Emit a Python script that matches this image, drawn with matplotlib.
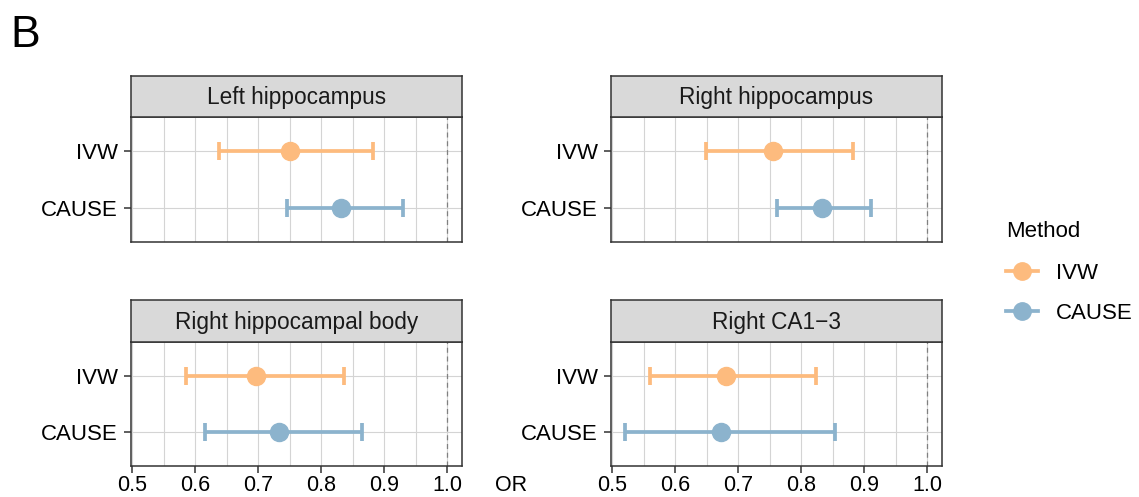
import matplotlib
matplotlib.use('Agg')
import matplotlib.pyplot as plt
from matplotlib.lines import Line2D
import numpy as np

plt.rcParams['font.family'] = ['Liberation Sans', 'DejaVu Sans']

# data (odds ratios with 95% CI)
panels = ['Left hippocampus', 'Right hippocampus',
          'Right hippocampal body', 'Right CA1\u22123']
methods = ['IVW', 'CAUSE']
ivw_or = [0.750, 0.755, 0.697, 0.680]
ivw_lo = [0.638, 0.649, 0.585, 0.559]
ivw_hi = [0.882, 0.882, 0.836, 0.823]
cause_or = [0.831, 0.832, 0.732, 0.672]
cause_lo = [0.745, 0.761, 0.616, 0.520]
cause_hi = [0.929, 0.910, 0.865, 0.854]
x_ticks = [0.5, 0.6, 0.7, 0.8, 0.9, 1.0]
x_labels = ['0.5', '0.6', '0.7', '0.8', '0.9', '1.0']

col_ivw = '#FDBB7E'
col_cause = '#8CB3CD'
dark = '#333333'

W, H = 1139, 497
fig = plt.figure(figsize=(W / 100, H / 100), dpi=100)


def px_box(x0, y0, x1, y1):
    return [x0 / W, 1 - y1 / H, (x1 - x0) / W, (y1 - y0) / H]


# panel pixel layout: (strip top, panel top, panel bottom)
lefts = [131, 611]
rows = [(76, 117.5, 241.7), (300, 341.7, 465.7)]
panel_w = 331

series = [(ivw_or, ivw_lo, ivw_hi, col_ivw, 2),
          (cause_or, cause_lo, cause_hi, col_cause, 1)]

for k, name in enumerate(panels):
    r, c = divmod(k, 2)
    x0 = lefts[c]
    s_top, p_top, p_bot = rows[r]
    ax = fig.add_axes(px_box(x0, p_top, x0 + panel_w, p_bot))
    st = fig.add_axes(px_box(x0, s_top, x0 + panel_w, p_top))

    # grid
    ax.set_xlim(0.4978, 1.0232)
    ax.set_ylim(0.4, 2.6)
    ax.set_xticks(x_ticks)
    ax.set_xticks(np.arange(0.55, 1.0, 0.1), minor=True)
    ax.set_yticks([2, 1])
    ax.set_yticklabels(methods)
    ax.grid(True, which='both', axis='x', color='#D4D4D4', lw=0.8)
    ax.grid(True, which='major', axis='y', color='#D4D4D4', lw=0.8)
    ax.set_axisbelow(True)
    ax.axvline(1.0, color='#808080', lw=0.9, ls=(0, (4, 3)), zorder=1)

    for vals, lo, hi, col, y in series:
        v = vals[k]
        ax.errorbar([v], [y], xerr=[[v - lo[k]], [hi[k] - v]], fmt='o',
                    color=col, ms=13, elinewidth=2.7, capsize=6.5,
                    capthick=2.7, zorder=3)

    for sp in ax.spines.values():
        sp.set_color(dark)
        sp.set_linewidth(1.1)
    ax.tick_params(axis='both', which='major', length=4.8, width=1.1,
                   color=dark, labelsize=16, labelcolor='black')
    ax.tick_params(axis='y', pad=4.6)
    ax.tick_params(axis='x', pad=2, labelsize=15.5)
    ax.tick_params(axis='x', which='minor', length=0)
    if r == 0:
        ax.tick_params(axis='x', bottom=False, labelbottom=False)
    else:
        ax.set_xticklabels(x_labels)

    # strip
    st.set_facecolor('#D9D9D9')
    st.set_xticks([])
    st.set_yticks([])
    for sp in st.spines.values():
        sp.set_color(dark)
        sp.set_linewidth(1.1)
    st.text(0.5, 0.47, name, ha='center', va='center', fontsize=16.3,
            color='#1A1A1A', transform=st.transAxes)

fig.text(10.5 / W, 1 - 47 / H, 'B', fontsize=32, va='baseline')
# axis title sits on the same line as the tick labels
fig.text(495.5 / W, 1 - 475.2 / H, 'OR', fontsize=15.5, va='top')

handles = [Line2D([], [], color=col_ivw, lw=2.7, marker='o', ms=12.5),
           Line2D([], [], color=col_cause, lw=2.7, marker='o', ms=12.5)]
leg = fig.legend(handles, methods, title='Method', loc='upper left',
                 bbox_to_anchor=(997 / W, 1 - 212 / H), frameon=False,
                 fontsize=16, title_fontsize=16, handlelength=1.45,
                 handletextpad=0.8, labelspacing=0.85, alignment='left',
                 borderaxespad=0)
# a bit more room between the title and the first entry
leg._legend_box.sep = 0.85 * 16 + 1.5

fig.savefig('out.png', dpi=100)
